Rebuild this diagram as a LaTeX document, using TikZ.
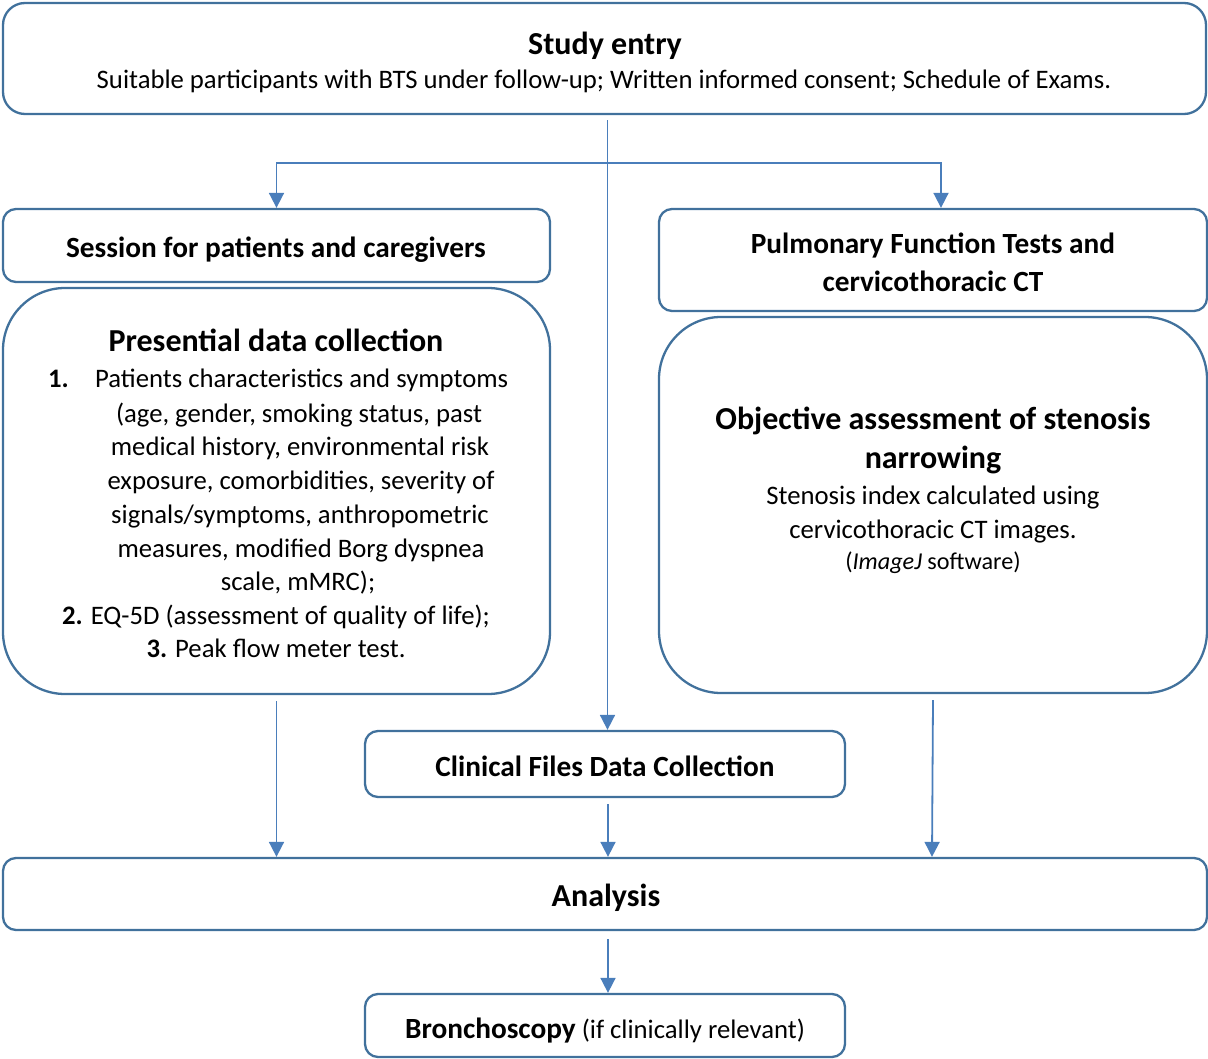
\documentclass[tikz,border=0pt]{standalone}
\usepackage{fontspec}
\setmainfont{Carlito}
\usetikzlibrary{arrows.meta}
\definecolor{boxc}{HTML}{41719C}
\definecolor{arrc}{HTML}{4A7EBB}
\newcommand{\fbody}{\fontsize{26.7}{32}\selectfont}
\newcommand{\fbold}{\fontsize{29.3}{35}\selectfont\bfseries}
\newcommand{\fhead}{\fontsize{32}{38}\selectfont\bfseries}
\newcommand{\fsmall}{\fontsize{24.2}{29}\selectfont}
\begin{document}
\begin{tikzpicture}[x=1pt,y=-1pt,
  box/.style={draw=boxc,line width=2.3pt,rectangle,inner sep=0pt},
  sbox/.style={box,rounded corners=13pt},
  bbox/.style={box,rounded corners=62pt},
  arr/.style={draw=arrc,line width=1.8pt,-{Triangle[width=15pt,length=15pt]}},
  txt/.style={anchor=base,inner sep=0pt,font=\fbody},
  bd/.style={anchor=base,inner sep=0pt,font=\fbold},
  hd/.style={anchor=base,inner sep=0pt,font=\fhead}]
\useasboundingbox (0,0) rectangle (1208,1059);
% boxes
\node[box,rounded corners=22pt,minimum width=1203pt,minimum height=111pt] (study) at (604.5,58.5) {};
\node[sbox,minimum width=547pt,minimum height=73pt] (sess) at (276.5,245.5) {};
\node[bbox,minimum width=547pt,minimum height=406pt] (pres) at (276.5,491) {};
\node[sbox,minimum width=548pt,minimum height=102pt] (pft) at (933,260) {};
\node[bbox,minimum width=548pt,minimum height=376pt] (obj) at (933,505) {};
\node[sbox,minimum width=480pt,minimum height=66pt] (clin) at (605,764) {};
\node[sbox,minimum width=1204pt,minimum height=72pt] (ana) at (605,894) {};
\node[sbox,minimum width=480pt,minimum height=63pt] (bron) at (605,1025.5) {};
% texts
\node[hd] (t1) at (605,55) {Study entry};
\node[txt] (t2) at (604,89) {Suitable participants with BTS under follow-up; Written informed consent; Schedule of Exams.};
\node[bd] (t3) at (276,258) {Session for patients and caregivers};
\node[bd] (t4) at (933,254) {Pulmonary Function Tests and};
\node[bd] (t5) at (933,292) {cervicothoracic CT};
\node[hd] (p0) at (276,352) {Presential data collection};
\node[txt,anchor=base west,font=\fbody\bfseries] (p1n) at (48,388) {1.};
\node[txt,anchor=base west] (p1) at (95,388) {Patients characteristics and symptoms};
\node[txt] (p2) at (299,422) {(age, gender, smoking status, past};
\node[txt] (p3) at (300,455) {medical history, environmental risk};
\node[txt] (p4) at (301,489) {exposure, comorbidities, severity of};
\node[txt] (p5) at (300,523) {signals/symptoms, anthropometric};
\node[txt] (p6) at (301,557) {measures, modified Borg dyspnea};
\node[txt] (p7) at (298,590) {scale, mMRC);};
\node[txt] (p8) at (276,624) {\textbf{2.} EQ-5D (assessment of quality of life);};
\node[txt] (p9) at (276,657) {\textbf{3.} Peak flow meter test.};
\node[hd] (o1) at (933,429) {Objective assessment of stenosis};
\node[hd] (o2) at (933,468) {narrowing};
\node[txt] (o3) at (933,504) {Stenosis index calculated using};
\node[txt] (o4) at (933,538) {cervicothoracic CT images.};
\node[txt,font=\fsmall] (o5) at (933,569) {(\textit{ImageJ} software)};
\node[bd] (c1) at (605,776) {Clinical Files Data Collection};
\node[hd] (a1) at (606,906) {Analysis};
\node[txt] (b1) at (605,1038) {{\fbold Bronchoscopy} (if clinically relevant)};
% connectors
\coordinate (top) at ([xshift=3pt,yshift=-5pt]study.south);
\coordinate (split) at (608,163);
\draw[arr] (top) -- (top|-clin.north);
\draw[arr] (split) -| (sess.north);
\draw[arr] (split) -| ([xshift=8pt]pft.north);
\draw[arr] ([yshift=-6pt]pres.south) -- (pres.south|-ana.north);
\draw[arr] ([yshift=-6pt]obj.south) -- ([xshift=-1pt]obj.south|-ana.north);
\draw[arr] ([xshift=3pt,yshift=-6pt]clin.south) -- ([xshift=3pt]clin.south|-ana.north);
\draw[arr] ([xshift=3pt,yshift=-8pt]ana.south) -- ([xshift=3pt]bron.north);
\end{tikzpicture}
\end{document}
